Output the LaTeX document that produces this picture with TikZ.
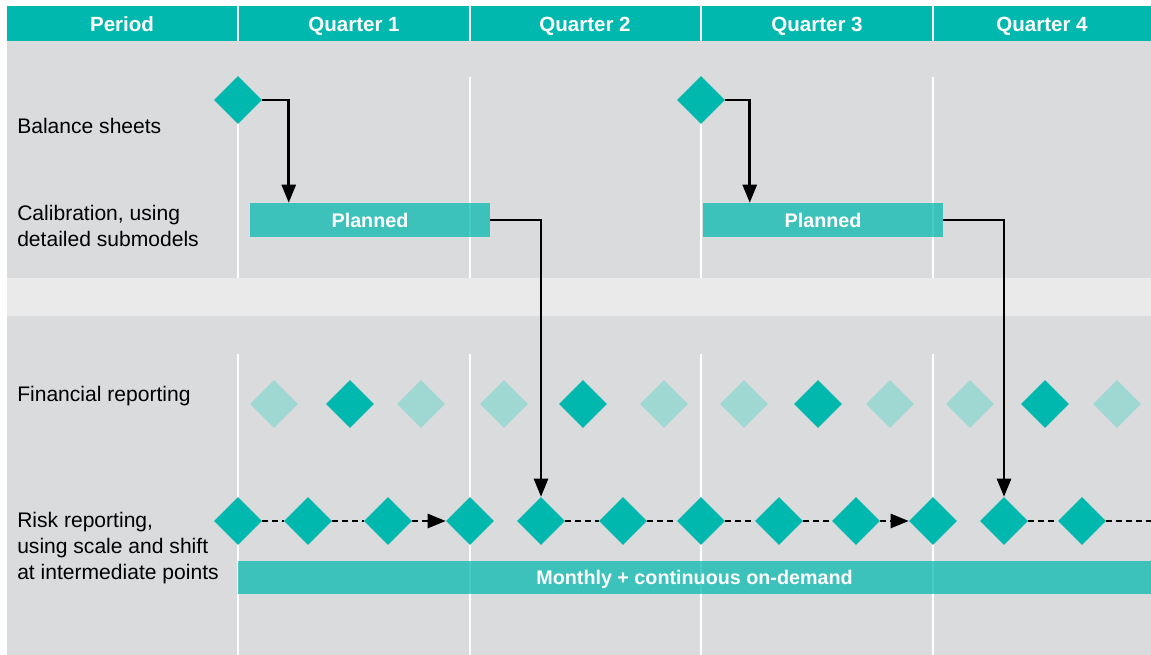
\documentclass[tikz,border=0pt]{standalone}
\usepackage{fontspec}
\setmainfont{Liberation Sans}
\usetikzlibrary{shapes.geometric,arrows.meta}

\definecolor{tealmain}{HTML}{00B8AE}
\definecolor{teallight}{HTML}{9FD8D2}
\definecolor{panelgray}{HTML}{DADBDD}
\definecolor{bandgray}{HTML}{EAEAEA}

\tikzset{
  milestone/.style={diamond,fill=tealmain,inner sep=0,minimum size=36pt},
  faintmilestone/.style={milestone,fill=teallight},
  bar/.style={fill=tealmain,fill opacity=0.72,text opacity=1,text=white,inner sep=0,
    text depth=0pt,font=\fontsize{14.8}{17}\selectfont\bfseries},
  rowlabel/.style={anchor=west,align=left,inner sep=0,font=\fontsize{15.8}{19.5}\selectfont},
  headcell/.style={text=white,inner sep=0,text depth=0pt,font=\fontsize{15.4}{18}\selectfont\bfseries},
  flow/.style={line width=1.9pt,-{Triangle[length=13.5pt,width=10.5pt]}},
  link/.style={line width=1.9pt,dash pattern=on 4.5pt off 3pt},
  divider/.style={white,line width=1.5pt},
}

\begin{document}
\begin{tikzpicture}[x=0.75pt,y=-0.75pt]
\useasboundingbox (0,0) rectangle (1151,655);
% panels
\fill [white] (0,0) rectangle (1151,655);
\fill [tealmain] (7,6) rectangle (1151,41);
\fill [panelgray] (7,41) rectangle (1151,278);
\fill [bandgray] (7,278) rectangle (1151,316);
\fill [panelgray] (7,316) rectangle (1151,655);
\foreach \x in {238,470,701,933} {
  \draw [divider] (\x,6) -- (\x,41);
  \draw [divider] (\x,77) -- (\x,278);
  \draw [divider] (\x,354) -- (\x,655);
}
% header
\node (hperiod) at (122,24) [headcell] {Period};
\node (hq1) at (354,24) [headcell] {Quarter 1};
\node (hq2) at (585,24) [headcell] {Quarter 2};
\node (hq3) at (817,24) [headcell] {Quarter 3};
\node (hq4) at (1042,24) [headcell] {Quarter 4};
% row labels
\node (lbal) at (17,126) [rowlabel] {Balance sheets};
\node (lcal) at (17,226) [rowlabel] {Calibration, using\\detailed submodels};
\node (lfin) at (17,396) [rowlabel] {Financial reporting};
\node (lrisk) at (17,548) [rowlabel] {Risk reporting,\\using scale and shift\\at intermediate points};
% balance sheets and calibration
\node (bs1) at (238,100) [milestone] {};
\node (bs2) at (701,100) [milestone] {};
\node (plan1) at (370,220) [bar,minimum width=180pt,minimum height=25.5pt] {Planned};
\node (plan2) at (823,220) [bar,minimum width=180pt,minimum height=25.5pt] {Planned};
\node (monthly) at (694.5,577.5) [bar,minimum width=684.75pt,minimum height=24.75pt] {Monthly + continuous on-demand};
% financial reporting
\foreach \x/\kind [count=\i] in {274/faintmilestone,350/milestone,421/faintmilestone,
    504/faintmilestone,583/milestone,664/faintmilestone,744/faintmilestone,818/milestone,
    890/faintmilestone,970/faintmilestone,1045/milestone,1117/faintmilestone}
  \node (fr\i) at (\x,404) [\kind] {};
% risk reporting
\foreach \x [count=\i] in {238,308,388,470,541,623,701,779,856,933,1004,1082}
  \node (rr\i) at (\x,521) [milestone] {};
\coordinate (rrend) at (1151,521);
\foreach \a/\b in {1/2,2/3,5/6,6/7,7/8,8/9,11/12}
  \draw [link] (rr\a.east) -- (rr\b.west);
\draw [link,-{Triangle[length=13.5pt,width=10.5pt]}] (rr3.east) -- (rr4.west);
\draw [link,-{Triangle[length=13.5pt,width=10.5pt]}] (rr9.east) -- (rr10.west);
\draw [link] (rr12.east) -- (rrend);
% arrows between rows
\draw [flow] (bs1.east) -| ([xshift=29.25pt]plan1.north west);
\draw [flow] (bs2.east) -| ([xshift=35.25pt]plan2.north west);
\draw [flow] (plan1.east) -| (rr5.north);
\draw [flow] (plan2.east) -| (rr11.north);
\end{tikzpicture}
\end{document}
